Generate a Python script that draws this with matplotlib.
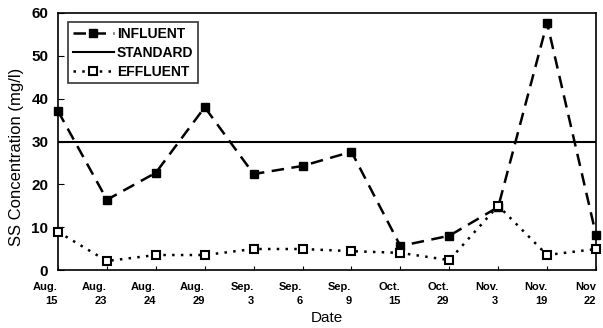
import matplotlib
matplotlib.use("Agg")
import matplotlib.pyplot as plt

plt.rcParams['font.family'] = ['Liberation Sans', 'DejaVu Sans']

dates = ["Aug.\n15", "Aug.\n23", "Aug.\n24", "Aug.\n29", "Sep.\n3", "Sep.\n6",
         "Sep.\n9", "Oct.\n15", "Oct.\n29", "Nov.\n3", "Nov.\n19", "Nov\n22"]
influent = [37.1, 16.4, 22.7, 38.0, 22.4, 24.3, 27.6, 5.6, 8.0, 14.7, 57.7, 8.2]
effluent = [8.9, 2.1, 3.5, 3.5, 4.9, 4.9, 4.4, 4.0, 2.3, 15.0, 3.5, 4.9]
standard = 30

fig = plt.figure(figsize=(6.03, 3.28), dpi=100)
ax = fig.add_axes([58/603, 1-270/328, (596-58)/603, (270-13)/328])

x = list(range(len(dates)))
ax.plot(x, influent, color='black', linestyle=(0, (5, 3)), linewidth=1.8,
        marker='s', markersize=6, markerfacecolor='black', label='INFLUENT', clip_on=False, zorder=3)
ax.axhline(standard, color='black', linewidth=1.5, label='STANDARD')
ax.plot(x, effluent, color='black', linestyle=(0, (1, 2.5)), linewidth=1.8,
        marker='s', markersize=6, markerfacecolor='white', markeredgewidth=1.5,
        label='EFFLUENT', clip_on=False, zorder=3)

ax.set_xlim(0, len(dates) - 1)
ax.set_ylim(0, 60)
ax.set_yticks(range(0, 61, 10))
ax.set_xticks(x)
ax.set_xticklabels(dates, fontsize=8, fontweight='bold', linespacing=1.5)
for lbl in ax.get_xticklabels():
    lbl.set_horizontalalignment('right')
    lbl.set_multialignment('right')
ax.tick_params(axis='y', direction='in', labelsize=11, length=4, pad=7)
ax.tick_params(axis='x', direction='in', length=3, pad=9)
for lbl in ax.get_yticklabels():
    lbl.set_fontweight('bold')
for s in ax.spines.values():
    s.set_linewidth(1.2)

ax.set_xlabel('Date', fontsize=11, labelpad=3)
ax.set_ylabel('SS Concentration (mg/l)', fontsize=12)
ax.yaxis.set_label_coords(-0.064, 0.44)

leg = ax.legend(loc='upper left', bbox_to_anchor=(0.018, 0.965), frameon=True, fancybox=False,
                edgecolor='black', fontsize=10, handlelength=3.0, borderpad=0.35,
                labelspacing=0.35, handletextpad=0.2, borderaxespad=0.0)
leg.get_frame().set_linewidth(1.2)
for t in leg.get_texts():
    t.set_fontweight('bold')

fig.savefig('out.png', dpi=100)
